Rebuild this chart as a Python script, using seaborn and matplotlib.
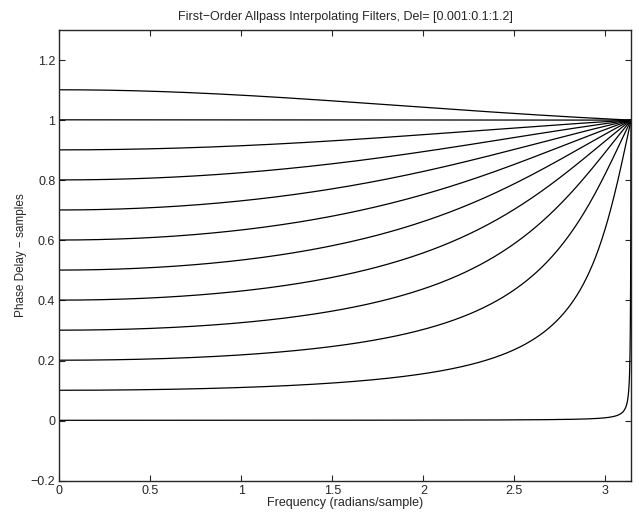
import numpy as np
import pandas as pd
import matplotlib
matplotlib.use("Agg")
import matplotlib.pyplot as plt
import seaborn as sns

# delays of the first-order allpass interpolators, Del = 0.001:0.1:1.2
delays = [0.001, 0.101, 0.201, 0.301, 0.401, 0.501, 0.601, 0.701, 0.801, 0.901, 1.001, 1.101]
x_ticks = [0, 0.5, 1, 1.5, 2, 2.5, 3]
y_ticks = [-0.2, 0, 0.2, 0.4, 0.6, 0.8, 1, 1.2]
title = "First\u2212Order Allpass Interpolating Filters, Del= [0.001:0.1:1.2]"
xlabel = "Frequency (radians/sample)"
ylabel = "Phase Delay \u2212 samples"


# phase delay of H(z) = (eta + z^-1) / (1 + eta z^-1), eta = (1-D)/(1+D)
def phase_delay(D, w):
    eta = (1 - D) / (1 + D)
    z1 = np.exp(-1j * w)
    H = (eta + z1) / (1 + eta * z1)
    ph = np.unwrap(np.angle(H))
    return -ph / w


w = np.linspace(np.pi / 4000, np.pi, 4000)
frames = []
for d in delays:
    frames.append(pd.DataFrame({"w": w, "delay": phase_delay(d, w), "Del": d}))
df = pd.concat(frames, ignore_index=True)

sns.set_style("ticks")
plt.rcParams["font.family"] = ["Liberation Sans", "DejaVu Sans"]
plt.rcParams["axes.unicode_minus"] = True

fig = plt.figure(figsize=(6.39, 5.16), dpi=100)
ax = fig.add_axes([0.0931, 0.0684, 0.8944, 0.8735])

sns.lineplot(data=df, x="w", y="delay", hue="Del", units="Del", estimator=None,
             palette=["black"] * len(delays), linewidth=0.9, legend=False, ax=ax, sort=False)

ax.set_xlim(0, np.pi)
ax.set_ylim(-0.2, 1.3)
ax.set_xticks(x_ticks)
ax.set_xticklabels(["0", "0.5", "1", "1.5", "2", "2.5", "3"])
ax.set_yticks(y_ticks)
ax.set_yticklabels(["\u22120.2", "0", "0.2", "0.4", "0.6", "0.8", "1", "1.2"])
ax.tick_params(direction="in", length=4, width=0.8, labelsize=9, top=True, right=True, pad=3)
for s in ax.spines.values():
    s.set_linewidth(1.0)
    s.set_visible(True)

ax.set_title(title, fontsize=9, pad=7)
ax.set_xlabel(xlabel, fontsize=9, labelpad=0)
ax.set_ylabel(ylabel, fontsize=8.5, labelpad=3)

fig.savefig("out.png", dpi=100, facecolor="white")
